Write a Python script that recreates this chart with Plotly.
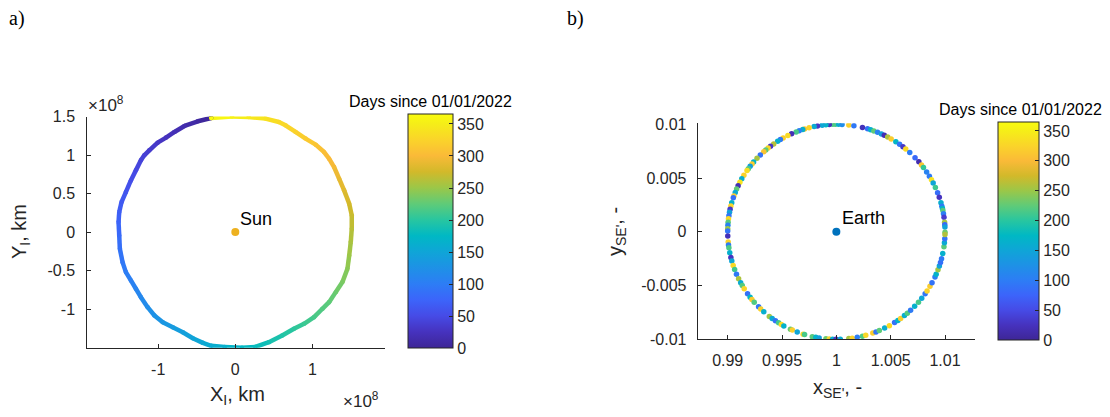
import numpy as np
import plotly.graph_objects as go
from plotly.colors import sample_colorscale

# ---------------- data: panel a) inertial orbit (units of 1e8 km) ----------------
orbit_day = [0, 7, 14, 20, 25, 30, 35, 39, 42, 47, 53, 59, 64, 69, 74, 81, 88, 94, 100, 104,
             109, 114, 120, 126, 131, 137, 142, 148, 154, 158, 165, 174, 180, 187, 195, 202,
             208, 214, 220, 224, 230, 236, 243, 250, 257, 264, 270, 276, 283, 289, 296, 300,
             304, 310, 316, 322, 328, 331, 338, 346, 355, 365]
orbit_x_1e8km = [-0.313, -0.486, -0.659, -0.789, -0.898, -1.007, -1.115, -1.180, -1.224, -1.289,
                 -1.354, -1.419, -1.475, -1.505, -1.514, -1.505, -1.497, -1.462, -1.419, -1.354,
                 -1.289, -1.224, -1.137, -1.049, -0.941, -0.811, -0.681, -0.551, -0.421, -0.313,
                 -0.138, 0.087, 0.260, 0.435, 0.608, 0.760, 0.891, 1.021, 1.129, 1.216,
                 1.302, 1.389, 1.454, 1.477, 1.497, 1.510, 1.510, 1.477, 1.411, 1.346,
                 1.281, 1.216, 1.151, 1.042, 0.911, 0.781, 0.651, 0.565, 0.391, 0.174,
                 -0.043, -0.313]
orbit_y_1e8km = [1.481, 1.438, 1.377, 1.299, 1.226, 1.161, 1.061, 0.996, 0.931, 0.801,
                 0.671, 0.519, 0.390, 0.260, 0.130, -0.043, -0.216, -0.390, -0.519, -0.627,
                 -0.735, -0.844, -0.974, -1.082, -1.169, -1.234, -1.299, -1.377, -1.437, -1.475,
                 -1.490, -1.500, -1.490, -1.429, -1.342, -1.255, -1.190, -1.104, -0.995, -0.909,
                 -0.779, -0.649, -0.476, -0.303, -0.130, 0.044, 0.217, 0.369, 0.542, 0.693,
                 0.844, 0.953, 1.039, 1.135, 1.213, 1.299, 1.386, 1.429, 1.473, 1.494,
                 1.500, 1.481]
sun_xy = (0.0, 0.0)

# ---------------- data: panel b) rotating Sun-Earth frame ----------------
se_angle_deg = [
    90.5, 88.8, 87.0, 83.4, 80.7, 76.1, 73.3, 71.6, 69.8, 67.7, 65.5, 63.8, 61.8,
    59.7, 56.8, 54.4, 52.2, 50.3, 47.5, 43.6, 40.6, 38.4, 36.7, 33.8,
    31.1, 28.9, 27.0, 24.3, 21.3, 18.7, 15.7, 13.8, 12.5, 11.4,
    9.6, 7.8, 5.1, 3.8, 2.5, -0.2,
    91.9, 93.7, 95.5, 97.5, 100.0, 101.8, 104.5, 107.0, 108.0, 110.0, 111.7,
    114.3, 116.5, 119.3, 121.0, 122.7, 125.2, 127.3, 128.9, 130.5, 131.9,
    134.4, 136.9, 139.6, 140.9, 142.5, 144.1, 145.3, 148.3, 150.5, 152.6,
    154.7, 156.6, 158.5, 160.5, 161.5, 164.3, 166.1, 167.9, 169.5, 171.4, 173.1, 174.9,
    176.5, 178.4,
    179.6, 182.3, 185.5, 187.0, 188.5, 191.2, 193.9, 195.8, 198.3, 200.6,
    203.2, 205.9, 208.3, 210.0, 212.0, 215.2, 217.5, 219.0, 220.9,
    224.3, 225.9, 228.1, 231.9, 233.8, 235.9, 237.9, 239.6, 241.1, 245.0,
    246.1, 248.9, 252.2, 253.0, 257.2, 259.1, 260.9, 264.5, 266.3, 268.0,
    269.8,
    272.1, 276.6, 278.4, 281.1, 283.9, 285.7, 289.6, 291.4, 293.3,
    296.4, 299.2, 302.4, 304.5, 306.3, 308.8, 310.8, 313.1, 316.1,
    319.1, 321.8, 324.8, 326.6, 329.5, 331.7, 335.2, 336.7,
    339.3, 341.5, 343.4, 345.5, 348.3, 352.0, 354.1, 356.3, 358.6]
se_day = [
    215, 160, 120, 322, 95, 22, 88, 165, 225, 105, 145, 18, 258,
    318, 172, 92, 30, 330, 100, 80, 15, 312, 205, 108,
    98, 338, 150, 210, 84, 26, 162, 96, 168, 222,
    102, 35, 255, 78, 148, 230,
    218, 24, 170, 152, 30, 158, 325, 316, 162, 104, 214,
    20, 332, 320, 94, 165, 262, 28, 328, 225, 310,
    90, 255, 170, 318, 142, 220, 334, 322, 160, 340,
    18, 226, 155, 315, 86, 166, 326, 32, 145, 92, 330, 222,
    108, 250,
    92, 22, 324, 100, 216, 165, 26, 152, 330, 210,
    96, 258, 158, 220, 326, 88, 172, 316, 218,
    94, 322, 163, 252, 156, 90, 212, 332, 166, 228,
    320, 150, 328, 214, 222, 170, 140, 230, 325, 160,
    28,
    158, 256, 322, 100, 218, 328, 316, 92, 224,
    160, 330, 88, 170, 320, 162, 220, 98, 166,
    214, 152, 94, 324, 318, 90, 102, 168,
    252, 148, 86, 96, 164, 222, 156, 92, 260]
se_radius = 0.01
earth_xy = (1.0, 0.0)

day_ticks = [0, 50, 100, 150, 200, 250, 300, 350]
day_max = 365

# ---------------- styling ----------------
PARULA = [
    [0.000, "rgb(62,38,150)"], [0.068, "rgb(70,50,190)"], [0.137, "rgb(70,75,230)"],
    [0.205, "rgb(60,100,250)"], [0.274, "rgb(45,125,245)"], [0.342, "rgb(30,145,230)"],
    [0.411, "rgb(15,165,215)"], [0.479, "rgb(0,184,196)"], [0.548, "rgb(40,198,160)"],
    [0.616, "rgb(95,203,120)"], [0.685, "rgb(155,199,72)"], [0.753, "rgb(210,185,42)"],
    [0.822, "rgb(250,186,56)"], [0.890, "rgb(250,212,42)"], [0.959, "rgb(245,238,24)"],
    [1.000, "rgb(249,251,14)"]]
FONT = "Liberation Sans, Arial, sans-serif"
SERIF = "Liberation Serif, Times New Roman, serif"
AXC = "#262626"
OFF = 8            # page body margin of the browser
W, H = 1110 - OFF, 417 - OFF


def px(x):
    return (x - OFF) / W


def py(y):
    return 1 - (y - OFF) / H


fig = go.Figure()

# panel a: colored orbit as line segments
for i in range(len(orbit_day) - 1):
    d = 0.5 * (orbit_day[i] + orbit_day[i + 1]) / day_max
    col = sample_colorscale(PARULA, [d])[0]
    fig.add_trace(go.Scatter(
        x=orbit_x_1e8km[i:i + 2], y=orbit_y_1e8km[i:i + 2], mode="lines",
        line=dict(color=col, width=4.5), hoverinfo="skip", showlegend=False,
        xaxis="x", yaxis="y"))
fig.add_trace(go.Scatter(
    x=orbit_x_1e8km, y=orbit_y_1e8km, mode="markers",
    marker=dict(size=4.5, color=orbit_day, coloraxis="coloraxis", line=dict(width=0)),
    showlegend=False, xaxis="x", yaxis="y"))
fig.add_trace(go.Scatter(
    x=[sun_xy[0]], y=[sun_xy[1]], mode="markers",
    marker=dict(size=8, color="#EDB120"), showlegend=False, xaxis="x", yaxis="y"))

# panel b: scattered positions
ang = np.radians(np.array(se_angle_deg))
se_x = earth_xy[0] + se_radius * np.cos(ang)
se_y = earth_xy[1] + se_radius * np.sin(ang)
fig.add_trace(go.Scatter(
    x=se_x, y=se_y, mode="markers",
    marker=dict(size=5.5, color=se_day, coloraxis="coloraxis2", line=dict(width=0)),
    showlegend=False, xaxis="x2", yaxis="y2"))
fig.add_trace(go.Scatter(
    x=[earth_xy[0]], y=[earth_xy[1]], mode="markers",
    marker=dict(size=8, color="#0072BD"), showlegend=False, xaxis="x2", yaxis="y2"))

axis_common = dict(showline=True, linecolor=AXC, linewidth=1, ticks="inside", ticklen=4,
                   tickcolor=AXC, tickwidth=1, showgrid=False, zeroline=False,
                   automargin=False,
                   tickfont=dict(family=FONT, size=16, color=AXC), mirror=False)


def cbar(x0, x1, y0, y1):
    return dict(thickness=x1 - x0, thicknessmode="pixels", len=(y1 - y0) / H,
                lenmode="fraction", x=px(x0), xanchor="left", y=py(y1), yanchor="bottom",
                xpad=0, ypad=0, outlinewidth=1, outlinecolor=AXC, ticks="inside",
                ticklen=4, tickcolor=AXC, tickvals=day_ticks,
                tickfont=dict(family=FONT, size=16, color=AXC))


fig.update_layout(
    template="none",
    width=W, height=H, autosize=False, margin=dict(l=0, r=0, t=0, b=0, pad=0),
    paper_bgcolor="white", plot_bgcolor="white",
    font=dict(family=FONT, color=AXC),
    xaxis=dict(domain=[px(87.3), px(385)], range=[-1.919, 1.941], anchor="y",
               tickvals=[-1, 0, 1], ticktext=["-1", "0", "1"], ticklabelstandoff=7,
               **axis_common),
    yaxis=dict(domain=[py(347.7), py(116.5)], range=[-1.5, 1.5], anchor="x",
               tickvals=[-1, -0.5, 0, 0.5, 1, 1.5], ticktext=["-1", "-0.5", "0", "0.5", "1", "1.5"],
               ticklabelstandoff=8, **axis_common),
    xaxis2=dict(domain=[px(697.7), px(975)], range=[0.98724, 1.01276], anchor="y2",
                tickvals=[0.99, 0.995, 1, 1.005, 1.01],
                ticktext=["0.99", "0.995", "1", "1.005", "1.01"], ticklabelstandoff=6,
                **axis_common),
    yaxis2=dict(domain=[py(339.3), py(123.3)], range=[-0.01, 0.01009], anchor="x2",
                tickvals=[-0.01, -0.005, 0, 0.005, 0.01],
                ticktext=["-0.01", "-0.005", "0", "0.005", "0.01"], ticklabelstandoff=7,
                **axis_common),
    coloraxis=dict(colorscale=PARULA, cmin=0, cmax=day_max,
                   colorbar=cbar(407.7, 452.7, 114.5, 348.3)),
    coloraxis2=dict(colorscale=PARULA, cmin=0, cmax=day_max,
                    colorbar=cbar(998.3, 1039, 122.3, 340)),
)

ann = []


def add_text(text, x, y, size=16, xanchor="center", yanchor="middle", angle=0,
             family=FONT, color=AXC, xref="paper", yref="paper"):
    ann.append(dict(text=text, x=x, y=y, xref=xref, yref=yref, showarrow=False,
                    xanchor=xanchor, yanchor=yanchor, textangle=angle, borderpad=0,
                    font=dict(family=family, size=size, color=color)))


add_text("a)", px(8), py(19), size=20, xanchor="left", family=SERIF, color="black")
add_text("b)", px(566), py(19), size=20, xanchor="left", family=SERIF, color="black")
add_text("Days since 01/01/2022", px(430), py(101.5), size=16, color="black")
add_text("Days since 01/01/2022", px(1020), py(109.5), size=16, color="black")
add_text("X<sub>I</sub>, km", px(237), py(395), size=20)
add_text("Y<sub>I</sub>, km", px(20), py(232), size=20, angle=-90)
add_text("x<sub>SE'</sub>, -", px(837), py(388), size=20)
add_text("y<sub>SE'</sub>, -", px(616), py(232), size=20, angle=-90)
add_text("\u00d710<sup>8</sup>", px(87), py(104), size=17, xanchor="left")
add_text("\u00d710<sup>8</sup>", px(342), py(400), size=17, xanchor="left")
add_text("Sun", 0.05, 0.17, size=18, xanchor="left", color="black", xref="x", yref="y")
add_text("Earth", 1.0004, 0.0013, size=18, xanchor="left", color="black", xref="x2", yref="y2")
fig.update_layout(annotations=ann)

fig.write_html("out.html")
